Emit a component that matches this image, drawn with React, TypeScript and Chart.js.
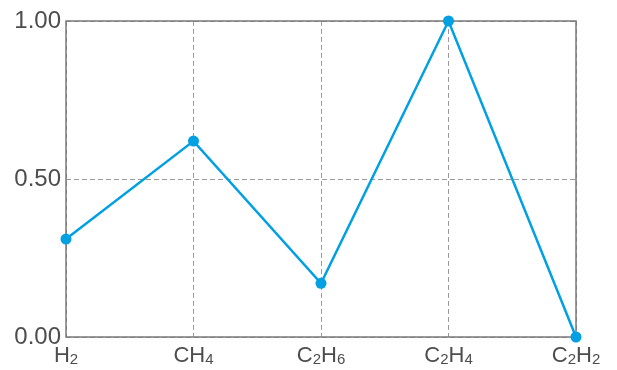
import React, { useEffect, useRef } from "react";
import { Chart, registerables } from "chart.js";

Chart.register(...registerables);

const categories = ["H2", "CH4", "C2H6", "C2H4", "C2H2"];
const values = [0.31, 0.62, 0.17, 1.0, 0.0];
const yTicks = [0, 0.5, 1.0];

const FONT = "'Liberation Sans', Arial, sans-serif";
const TEXT = "#4d4d4d";
const LINE = "#00a0e3";

function drawFormula(ctx: CanvasRenderingContext2D, text: string, cx: number, top: number) {
  const big = `22px ${FONT}`;
  const small = `15px ${FONT}`;
  const parts = text.split(/(\d+)/).filter((p) => p.length > 0);
  let total = 0;
  const widths = parts.map((p) => {
    ctx.font = /\d/.test(p) ? small : big;
    const w = ctx.measureText(p).width;
    total += w;
    return w;
  });
  let x = cx - total / 2;
  const base = top + 19;
  ctx.fillStyle = TEXT;
  ctx.textAlign = "left";
  ctx.textBaseline = "alphabetic";
  parts.forEach((p, i) => {
    const isNum = /\d/.test(p);
    ctx.font = isNum ? small : big;
    ctx.fillText(p, x, isNum ? base + 2 : base);
    x += widths[i];
  });
}

const framePlugin = {
  id: "frame",
  beforeDatasetsDraw(chart: any) {
    const { ctx, chartArea } = chart;
    ctx.save();
    ctx.strokeStyle = "#7a7a7a";
    ctx.lineWidth = 1.5;
    ctx.setLineDash([]);
    ctx.strokeRect(chartArea.left, chartArea.top, chartArea.right - chartArea.left, chartArea.bottom - chartArea.top);
    ctx.restore();
  },
  afterDraw(chart: any) {
    const { ctx } = chart;
    const xs = chart.scales.x;
    ctx.save();
    categories.forEach((c, i) => {
      const px = xs.getPixelForValue(i);
      drawFormula(ctx, c, px, chart.chartArea.bottom + 6);
    });
    ctx.restore();
  },
};

export default function App() {
  const ref = useRef<HTMLCanvasElement>(null);
  useEffect(() => {
    document.body.style.margin = "0";
    const chart = new Chart(ref.current!, {
      type: "line",
      data: {
        labels: categories,
        datasets: [
          {
            data: values,
            borderColor: LINE,
            backgroundColor: LINE,
            borderWidth: 2.5,
            pointRadius: 5.5,
            pointHoverRadius: 5.5,
            pointBorderWidth: 0,
            tension: 0,
            clip: false,
          },
        ],
      },
      options: {
        animation: false,
        responsive: false,
        events: [],
        layout: { padding: { top: 21, right: 41, left: 0, bottom: 0 } },
        plugins: { legend: { display: false }, tooltip: { enabled: false } },
        scales: {
          x: {
            type: "category",
            offset: false,
            grid: { color: "#9a9a9a", lineWidth: 1, drawTicks: false },
            border: { display: false, dash: [5, 3] },
            ticks: { color: "transparent", font: { size: 20, family: FONT }, padding: 8, maxRotation: 0, autoSkip: false },
            afterFit: (s: any) => { s.height = 33; },
          },
          y: {
            min: 0,
            max: 1,
            afterBuildTicks: (s: any) => { s.ticks = yTicks.map((v) => ({ value: v })); },
            grid: { color: "#9a9a9a", lineWidth: 1, drawTicks: false },
            border: { display: false, dash: [5, 3] },
            ticks: {
              color: TEXT,
              font: { size: 24, family: FONT },
              padding: 5,
              callback: (v: any) => Number(v).toFixed(2),
            },
            afterFit: (s: any) => { s.width = 66; },
          },
        },
      },
      plugins: [framePlugin],
    });
    return () => chart.destroy();
  }, []);
  return (
    <div style={{ position: "absolute", left: 0, top: 0, width: 617, height: 370 }}>
      <canvas ref={ref} width={617} height={370} style={{ width: 617, height: 370 }} />
    </div>
  );
}
